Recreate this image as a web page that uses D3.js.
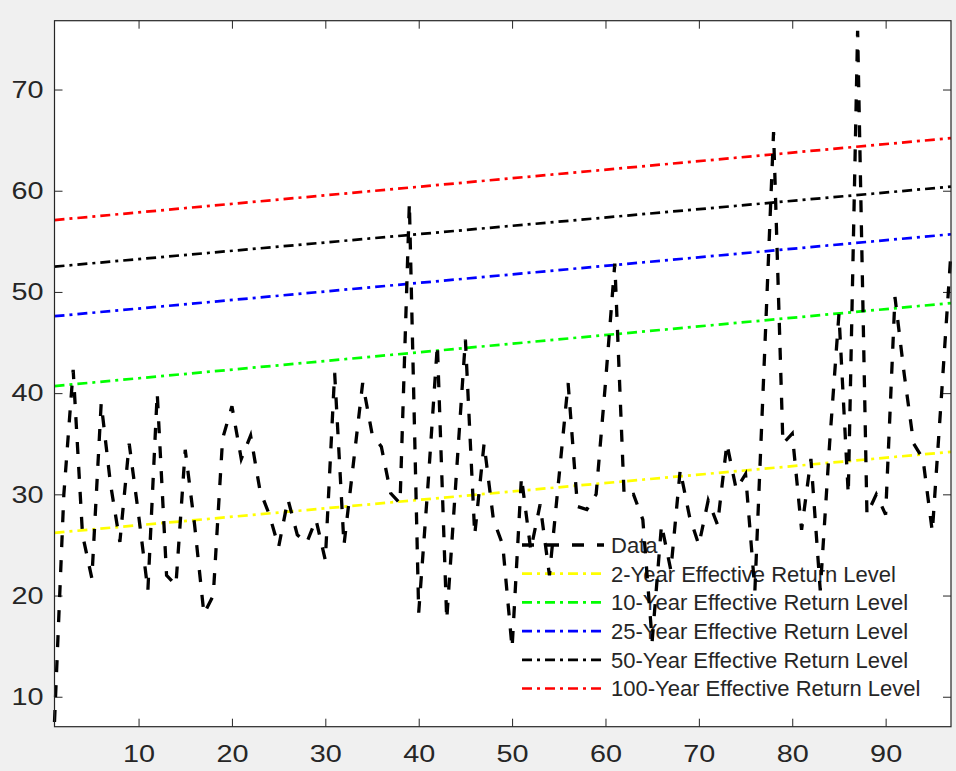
<!DOCTYPE html>
<html>
<head>
<meta charset="utf-8">
<script src="https://cdnjs.cloudflare.com/ajax/libs/d3/7.8.5/d3.min.js"></script>
<style>
  body { margin: 0; background: #f0f0f0; }
  svg { display: block; }
  text { font-family: "Liberation Sans", Arial, Helvetica, sans-serif; fill: #262626; }
</style>
</head>
<body>
<div id="chart"></div>
<script>
// observed series, one value per year index (1..97)
var dataValues = [
    7.5, 30, 42.3, 26, 21.7, 39, 31, 25.3, 35, 28,
    20.5, 40, 22, 21, 34.4, 27, 18.2, 20, 35.5, 38.7,
    33.5, 35.8, 30.4, 28, 24.8, 29.5, 26, 25.2, 27.5, 23.5,
    42, 25, 33, 41, 36, 34.7, 30.1, 29.1, 58.8, 18.3,
    31, 44.8, 17.6, 31.5, 45.3, 26, 35, 27.5, 25, 14.8,
    31.7, 24.5, 29, 22, 31.5, 41, 28.8, 28.5, 30, 41,
    52.8, 29.8, 30, 27.5, 15.5, 27, 22.5, 32.4, 27.8, 25,
    29.4, 27, 35, 30.5, 32, 20.5, 43, 65.8, 35, 36,
    26.5, 33.5, 20.5, 35, 47.8, 30, 75.8, 28, 30, 28,
    49.5, 41.8, 35, 33.5, 26.3, 40, 54
];
var years = d3.range(1, dataValues.length + 1);

// effective return levels (linear trend), value at first and last year
var levelNames = ["2-Year Effective Return Level", "10-Year Effective Return Level",
    "25-Year Effective Return Level", "50-Year Effective Return Level",
    "100-Year Effective Return Level"];
var levelStart = [26.2, 40.7, 47.6, 52.5, 57.1];
var levelEnd = [34.2, 48.9, 55.7, 60.4, 65.2];
var levelColors = ["#ffff00", "#00ff00", "#0000ff", "#000000", "#ff0000"];

var xTicks = [10, 20, 30, 40, 50, 60, 70, 80, 90];
var yTicks = [10, 20, 30, 40, 50, 60, 70];

var W = 956, H = 771;
var box = {left: 54.5, right: 951, top: 20.7, bottom: 726.7};
var LABEL_STRETCH = 1.2;   // tick labels in the original look horizontally stretched

var svg = d3.select("#chart").append("svg")
    .attr("width", W)
    .attr("height", H);

svg.append("rect").attr("width", W).attr("height", H).attr("fill", "#f0f0f0");
svg.append("rect")
    .attr("x", box.left).attr("y", box.top)
    .attr("width", box.right - box.left).attr("height", box.bottom - box.top)
    .attr("fill", "#ffffff");

var x = d3.scaleLinear().domain([1, 97]).range([box.left, box.right]);
var y = d3.scaleLinear().domain([7.04, 76.8]).range([box.bottom, box.top]);

// axes: ticks point inward, mirrored on top/right like a boxed matlab axes
function styleAxis(g) {
    g.select(".domain").remove();
    g.selectAll(".tick line").attr("stroke", "#262626");
    g.selectAll(".tick text")
        .attr("font-family", "Liberation Sans, Arial, sans-serif")
        .attr("font-size", 24)
        .attr("fill", "#262626");
}

svg.append("g")
    .attr("transform", "translate(0," + box.bottom + ")")
    .call(d3.axisBottom(x).tickValues(xTicks).tickSize(-8).tickPadding(18))
    .call(styleAxis)
    .selectAll(".tick text")
    .attr("transform", "scale(" + LABEL_STRETCH + ",1)");
svg.append("g")
    .attr("transform", "translate(0," + box.top + ")")
    .call(d3.axisTop(x).tickValues(xTicks).tickSize(-8).tickFormat(""))
    .call(styleAxis);
svg.append("g")
    .attr("transform", "translate(" + box.left + ",0)")
    .call(d3.axisLeft(y).tickValues(yTicks).tickSize(-8).tickPadding(11))
    .call(styleAxis)
    .selectAll(".tick text")
    .attr("x", -11 / LABEL_STRETCH)
    .attr("transform", "scale(" + LABEL_STRETCH + ",1)");
svg.append("g")
    .attr("transform", "translate(" + box.right + ",0)")
    .call(d3.axisRight(y).tickValues(yTicks).tickSize(-8).tickFormat(""))
    .call(styleAxis);

var plot = svg.append("g");

// return level lines
levelNames.forEach(function (name, i) {
    var pts = [[1, levelStart[i]], [97, levelEnd[i]]];
    plot.append("path")
        .datum(pts)
        .attr("fill", "none")
        .attr("stroke", levelColors[i])
        .attr("stroke-width", 2.7)
        .attr("stroke-dasharray", "10,5,3,5")
        .attr("d", d3.line().x(function (d) { return x(d[0]); }).y(function (d) { return y(d[1]); }));
});

// legend (no box, drawn under the data line)
var legend = svg.append("g");
var legX0 = 522, legX1 = 604, legY0 = 545, legStep = 28.7;
var legItems = [{name: "Data", color: "#000000", dash: "12,13", w: 3.3}].concat(
    levelNames.map(function (n, i) {
        return {name: n, color: levelColors[i], dash: "10,5,3,5", w: 2.7};
    }));
legItems.forEach(function (d, i) {
    var ly = legY0 + i * legStep;
    legend.append("line")
        .attr("x1", legX0).attr("x2", legX1)
        .attr("y1", ly).attr("y2", ly)
        .attr("stroke", d.color)
        .attr("stroke-width", d.w)
        .attr("stroke-dasharray", d.dash);
    legend.append("text")
        .attr("x", legX1 + 7)
        .attr("y", ly)
        .attr("dy", "0.36em")
        .attr("font-size", 22)
        .text(d.name);
});

// data series, on top of everything else
svg.append("path")
    .datum(dataValues)
    .attr("fill", "none")
    .attr("stroke", "#000000")
    .attr("stroke-width", 3.3)
    .attr("stroke-dasharray", "12,13")
    .attr("d", d3.line()
        .x(function (d, i) { return x(years[i]); })
        .y(function (d) { return y(d); }));

// axes box outline
svg.append("rect")
    .attr("x", box.left).attr("y", box.top)
    .attr("width", box.right - box.left).attr("height", box.bottom - box.top)
    .attr("fill", "none")
    .attr("stroke", "#262626")
    .attr("stroke-width", 1.2);
</script>
</body>
</html>
